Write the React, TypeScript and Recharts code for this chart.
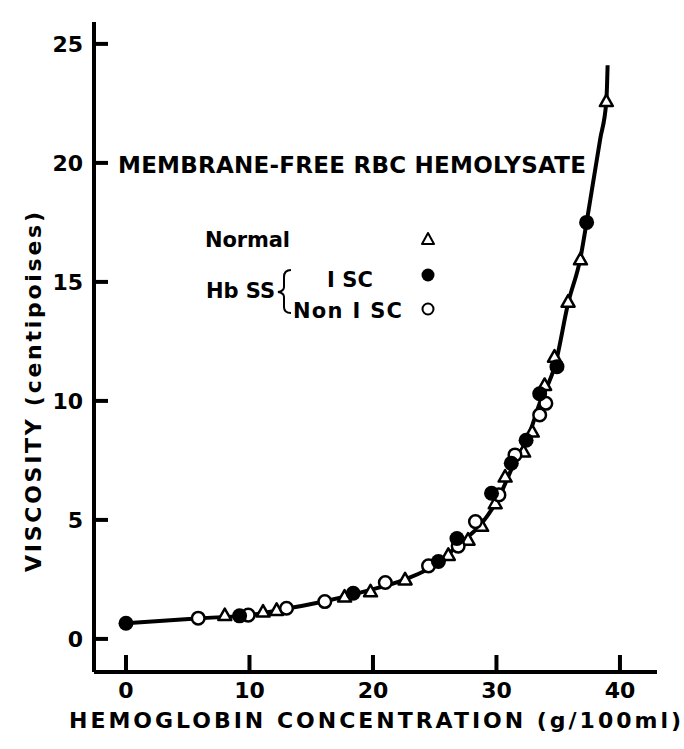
import React from "react";
import { ComposedChart, Line, Scatter, XAxis, YAxis, Customized } from "recharts";

// values: hemoglobin (g/100ml) vs viscosity (cP)
const normalX = [8.0, 11.1, 12.2, 17.7, 19.8, 22.6, 26.1, 27.7, 28.8, 29.9, 30.7, 32.2, 32.9, 33.9, 34.7, 35.8, 36.8, 38.9];
const normalY = [1.0, 1.15, 1.22, 1.78, 2.0, 2.5, 3.53, 4.17, 4.75, 5.7, 6.82, 7.87, 8.71, 10.67, 11.86, 14.17, 15.95, 22.6];

const iscX = [0, 9.2, 18.4, 25.3, 26.8, 29.6, 31.2, 32.4, 33.5, 34.9, 37.3];
const iscY = [0.66, 0.97, 1.92, 3.25, 4.22, 6.12, 7.38, 8.35, 10.3, 11.44, 17.5];

const nonIscX = [5.85, 9.9, 13.0, 16.1, 21.0, 24.5, 26.9, 28.3, 30.2, 31.5, 33.5, 34.0];
const nonIscY = [0.87, 1.0, 1.29, 1.57, 2.37, 3.07, 3.9, 4.93, 6.05, 7.73, 9.41, 9.9];

// the hand-drawn curve
const curveX = [0, 6, 10, 13, 16, 19.5, 22.6, 25.3, 27, 28.8, 30.2, 31.5, 32.5, 33.5, 34.8, 35.8, 36.8, 37.3, 37.8, 38.4, 38.9, 39.0];
const curveY = [0.66, 0.87, 1.0, 1.27, 1.57, 2.02, 2.5, 3.2, 4.0, 4.85, 5.95, 7.45, 8.4, 9.9, 11.6, 14.1, 16.0, 17.5, 19.1, 21.0, 22.6, 24.1];

const xTicks = [0, 10, 20, 30, 40];
const yTicks = [0, 5, 10, 15, 20, 25];

const zip = (xs: number[], ys: number[]) => xs.map((x, i) => ({ x, y: ys[i] }));
const normal = zip(normalX, normalY);
const isc = zip(iscX, iscY);
const nonIsc = zip(nonIscX, nonIscY);
const curve = zip(curveX, curveY);

const FONT = "'DejaVu Sans', sans-serif";

const Tri = (p: any) => {
  const { cx, cy } = p;
  return (
    <polygon
      points={`${cx},${cy - 6.5} ${cx + 6.5},${cy + 5} ${cx - 6.5},${cy + 5}`}
      fill="#fff"
      stroke="#000"
      strokeWidth={2.5}
      strokeLinejoin="round"
    />
  );
};
const Open = (p: any) => <circle cx={p.cx} cy={p.cy} r={6.3} fill="#fff" stroke="#000" strokeWidth={2.5} />;
const Filled = (p: any) => <circle cx={p.cx} cy={p.cy} r={7.5} fill="#000" />;

const XTick = (p: any) => {
  const { x, y, payload } = p;
  const axisY = y - 18;
  return (
    <g>
      <line x1={x} x2={x} y1={axisY} y2={axisY - 17} stroke="#000" strokeWidth={4} />
      <text x={x} y={axisY + 26} textAnchor="middle" fontFamily={FONT} fontWeight="bold" fontSize={22} fill="#000">
        {payload.value}
      </text>
    </g>
  );
};

const YTick = (p: any) => {
  const { x, y, payload } = p;
  const axisX = x + 10;
  return (
    <g>
      <line x1={axisX} x2={axisX + 14} y1={y} y2={y} stroke="#000" strokeWidth={4} />
      <text x={x - 1} y={y + 8} textAnchor="end" fontFamily={FONT} fontWeight="bold" fontSize={22} fill="#000">
        {payload.value}
      </text>
    </g>
  );
};

const Notes = () => (
  <g fontFamily={FONT} fill="#000">
    <text x={118} y={173} fontSize={23} fontWeight="bold" textLength={468}>
      MEMBRANE-FREE RBC HEMOLYSATE
    </text>
    <text x={205} y={247} fontSize={21} fontWeight="bold" textLength={85}>Normal</text>
    <text x={327} y={287} fontSize={21} fontWeight="bold" textLength={46}>I SC</text>
    <text x={206} y={298} fontSize={21} fontWeight="bold" textLength={69}>Hb SS</text>
    <text x={293} y={318} fontSize={21} fontWeight="bold" textLength={109}>Non I SC</text>
    <path
      d="M291 270 Q284 270 284 277 L284 287 Q284 291 278 292 Q284 293 284 297 L284 307 Q284 313 291 313"
      fill="none"
      stroke="#000"
      strokeWidth={2}
    />
    <polygon points="428,233 434,244 422,244" fill="#fff" stroke="#000" strokeWidth={2} strokeLinejoin="round" />
    <circle cx={428} cy={275} r={6.5} fill="#000" />
    <circle cx={428} cy={309} r={5.5} fill="#fff" stroke="#000" strokeWidth={2} />
    <text
      transform="translate(41,392) rotate(-90)"
      x={0}
      y={0}
      textAnchor="middle"
      fontSize={22}
      fontWeight="bold"
      textLength={360}
    >
      VISCOSITY (centipoises)
    </text>
    <text x={69} y={728} fontSize={22} fontWeight="bold" textLength={612}>
      HEMOGLOBIN CONCENTRATION (g/100ml)
    </text>
  </g>
);

export default function App() {
  return (
    <div style={{ position: "absolute", left: 0, top: 0, background: "#fff" }}>
      <ComposedChart width={684} height={749} margin={{ top: 22, right: 27, bottom: 76, left: 93 }}>
        <XAxis
          type="number"
          dataKey="x"
          domain={[-2.59, 43.0]}
          ticks={xTicks}
          allowDataOverflow
          height={1}
          tickSize={0}
          tickMargin={18}
          tickLine={false}
          axisLine={{ stroke: "#000", strokeWidth: 4 }}
          tick={<XTick />}
        />
        <YAxis
          type="number"
          dataKey="y"
          domain={[-1.39, 25.92]}
          ticks={yTicks}
          allowDataOverflow
          width={1}
          tickSize={0}
          tickMargin={10}
          tickLine={false}
          axisLine={{ stroke: "#000", strokeWidth: 4 }}
          tick={<YTick />}
        />
        <Line data={curve} dataKey="y" type="monotone" stroke="#000" strokeWidth={4} dot={false} isAnimationActive={false} />
        <Scatter data={normal} dataKey="y" shape={<Tri />} isAnimationActive={false} />
        <Scatter data={nonIsc} dataKey="y" shape={<Open />} isAnimationActive={false} />
        <Scatter data={isc} dataKey="y" shape={<Filled />} isAnimationActive={false} />
        <Customized component={<Notes />} />
      </ComposedChart>
    </div>
  );
}
